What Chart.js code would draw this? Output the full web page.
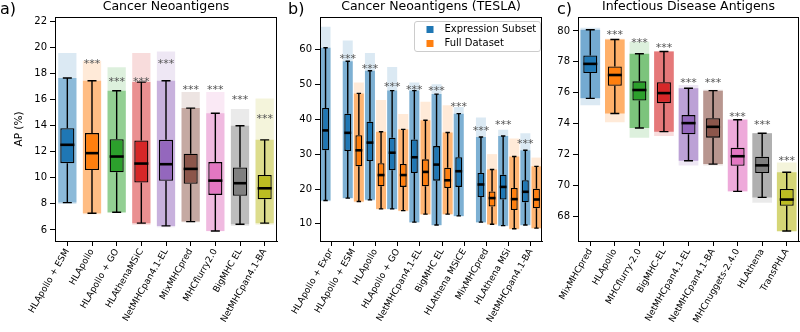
<!DOCTYPE html>
<html>
<head>
<meta charset="utf-8">
<script src="https://cdn.jsdelivr.net/npm/chart.js@4.4.1/dist/chart.umd.min.js"></script>
<style>
  body { margin: 0; background: #fff; }
  #wrap { position: relative; width: 800px; height: 332px; overflow: hidden; }
  canvas { position: absolute; top: 0; }
</style>
</head>
<body>
<div id="wrap">
  <canvas id="ca" width="290" height="332" style="left:0px"></canvas>
  <canvas id="cb" width="262" height="332" style="left:285px"></canvas>
  <canvas id="cc" width="255" height="332" style="left:545px"></canvas>
</div>
<script>
// ---- panel a: Cancer Neoantigens ----
const aLabels = ['HLApollo + ESM', 'HLApollo', 'HLApollo + GO', 'HLAthenaMSiC', 'NetMHCpan4.1-EL',
                 'MixMHCpred', 'MHCflurry2.0', 'BigMHC EL', 'NetMHCpan4.1-BA'];
const aMin  = [8.0, 7.2, 7.3, 6.4, 6.2, 6.6, 5.9, 6.3, 6.4];
const aLow  = [8.1, 7.28, 7.36, 6.52, 6.31, 6.64, 5.92, 6.44, 6.52];
const aQ1   = [11.13, 10.6, 10.43, 9.64, 9.77, 9.54, 8.69, 8.62, 8.36];
const aMed  = [12.54, 11.9, 11.64, 11.1, 11.05, 10.69, 9.79, 9.59, 9.2];
const aQ3   = [13.82, 13.44, 12.97, 12.87, 12.92, 11.85, 11.21, 10.8, 10.23];
const aHigh = [17.67, 17.46, 16.69, 17.36, 17.46, 15.36, 14.97, 14.0, 12.92];
const aMax  = [19.6, 19.0, 18.5, 19.6, 19.7, 16.6, 16.6, 15.3, 16.1];
const aStars = [null, 18.95, 17.62, 17.62, 18.95, 16.95, 16.95, 16.25, 14.72];
const aTicks = [6, 8, 10, 12, 14, 16, 18, 20, 22];

// ---- panel b: Cancer Neoantigens (TESLA) ----
const bLabels = ['HLApollo + Expr', 'HLApollo + ESM', 'HLApollo', 'HLApollo + GO', 'NetMHCpan4.1-EL',
                 'BigMHC EL', 'HLAthena MSiCE', 'MixMHCpred', 'HLAthena MSi', 'NetMHCpan4.1-BA'];
const bSeries = ['Expression Subset', 'Full Dataset'];
const bExpMin  = [16.5, 17.2, 16.7, 14.1, 10.3, 9.5, 12.1, 10.3, 9.3, 9.5];
const bExpLow  = [16.7, 17.4, 16.9, 14.3, 10.5, 9.7, 12.3, 10.5, 9.5, 9.7];
const bExpQ1   = [31.1, 30.9, 28.0, 25.4, 24.6, 22.4, 20.6, 17.7, 17.0, 16.2];
const bExpMed  = [36.8, 36.1, 33.3, 30.4, 29.1, 27.0, 25.1, 21.3, 20.6, 19.2];
const bExpQ3   = [43.2, 41.6, 39.3, 34.7, 34.2, 32.3, 29.1, 24.6, 24.1, 22.5];
const bExpHigh = [60.5, 56.6, 53.9, 48.2, 48.2, 47.2, 41.6, 34.9, 35.2, 31.1];
const bExpMax  = [66.5, 62.6, 59.0, 55.0, 50.5, 50.0, 43.5, 40.5, 37.0, 36.0];
const bAllMin  = [null, 16.2, 14.1, 13.6, 12.6, 12.6, null, 9.7, 8.4, 8.6];
const bAllLow  = [null, 16.4, 14.3, 13.8, 12.8, 12.8, null, 9.9, 8.6, 8.8];
const bAllQ1   = [null, 26.5, 20.8, 20.6, 20.8, 20.3, null, 15.0, 14.0, 14.5];
const bAllMed  = [null, 31.1, 24.0, 24.0, 24.9, 22.5, null, 17.4, 17.1, 17.0];
const bAllQ3   = [null, 35.4, 27.4, 27.2, 28.5, 26.1, null, 19.3, 20.3, 20.1];
const bAllHigh = [null, 47.4, 36.4, 37.1, 39.7, 36.2, null, 25.6, 29.3, 26.5];
const bAllMax  = [null, 50.5, 45.5, 41.5, 45.0, 44.0, null, 30.0, 34.5, 29.0];
const bStars = [null, 58.0, 55.2, 50.1, 49.3, 49.0, 44.3, 37.4, 39.1, 33.8];
const bTicks = [10, 20, 30, 40, 50, 60];

// ---- panel c: Infectious Disease Antigens ----
const cLabels = ['MixMHCpred', 'HLApollo', 'MHCflurry-2.0', 'BigMHC-EL', 'NetMHCpan4.1-EL',
                 'NetMHCpan4.1-BA', 'MHCnuggets-2.4.0', 'HLAthena', 'TransPHLA'];
const cMin  = [75.2, 74.1, 73.1, 73.2, 71.3, 71.3, 69.6, 68.9, 67.0];
const cLow  = [75.64, 74.66, 73.72, 73.49, 71.61, 71.39, 69.63, 69.24, 67.07];
const cQ1   = [77.28, 76.45, 75.5, 75.33, 73.32, 73.1, 71.28, 70.81, 68.7];
const cMed  = [77.87, 77.15, 76.18, 75.98, 74.04, 73.8, 71.9, 71.31, 69.1];
const cQ3   = [78.41, 77.7, 76.74, 76.68, 74.56, 74.36, 72.44, 71.87, 69.78];
const cHigh = [80.08, 79.45, 78.52, 78.67, 76.29, 76.14, 74.26, 73.39, 70.86];
const cMax  = [80.2, 79.5, 79.3, 78.7, 76.5, 76.2, 74.3, 73.4, 71.5];
const cStars = [null, 79.93, 79.43, 79.1, 76.85, 76.85, 74.62, 74.12, 71.8];
const cTicks = [68, 70, 72, 74, 76, 78, 80];

const TAB = ['#1f77b4', '#ff7f0e', '#2ca02c', '#d62728', '#9467bd', '#8c564b', '#e377c2', '#7f7f7f', '#bcbd22'];
const FONT = "'DejaVu Sans', sans-serif";

Chart.defaults.font.family = FONT;
Chart.defaults.color = '#000';

function rgba(hex, a) {
  const n = parseInt(hex.slice(1), 16);
  return `rgba(${n >> 16},${(n >> 8) & 255},${n & 255},${a})`;
}

// whiskers, caps, medians, stars, frame, titles, legend
function boxPlugin(cfg) {
  return {
    id: 'boxes',
    afterDatasetsDraw(chart) {
      const ctx = chart.ctx, y = chart.scales.y;
      ctx.save();
      ctx.strokeStyle = '#000';
      cfg.groups.forEach(g => {
        const meta = chart.getDatasetMeta(g.boxIndex);
        g.med.forEach((m, i) => {
          if (m == null) return;
          const el = meta.data[i];
          const x = el.x, w = el.width;
          const pl = y.getPixelForValue(g.low[i]), ph = y.getPixelForValue(g.high[i]);
          const p1 = y.getPixelForValue(g.q1[i]), p3 = y.getPixelForValue(g.q3[i]);
          ctx.lineWidth = 1.4;
          ctx.beginPath();
          ctx.moveTo(x, pl); ctx.lineTo(x, p1);
          ctx.moveTo(x, p3); ctx.lineTo(x, ph);
          ctx.moveTo(x - w * 0.32, pl); ctx.lineTo(x + w * 0.32, pl);
          ctx.moveTo(x - w * 0.32, ph); ctx.lineTo(x + w * 0.32, ph);
          ctx.stroke();
          ctx.lineWidth = 2.6;
          ctx.beginPath();
          const pm = y.getPixelForValue(m);
          ctx.moveTo(x - w / 2, pm); ctx.lineTo(x + w / 2, pm);
          ctx.stroke();
        });
      });
      // significance stars above the first group
      const meta0 = chart.getDatasetMeta(cfg.groups[0].boxIndex);
      ctx.fillStyle = '#555';
      ctx.font = `11px ${FONT}`;
      ctx.textAlign = 'center';
      ctx.textBaseline = 'alphabetic';
      cfg.stars.forEach((s, i) => {
        if (s == null) return;
        ctx.fillText('***', meta0.data[i].x, y.getPixelForValue(s) + 6);
      });
      ctx.restore();
    },
    afterDraw(chart) {
      const ctx = chart.ctx, a = chart.chartArea;
      ctx.save();
      ctx.strokeStyle = '#000';
      ctx.lineWidth = 1;
      ctx.strokeRect(Math.round(a.left) + 0.5, Math.round(a.top) + 0.5,
                     Math.round(a.right - a.left) - 1, Math.round(a.bottom - a.top));
      ctx.fillStyle = '#000';
      ctx.textAlign = 'center';
      ctx.font = `12.5px ${FONT}`;
      ctx.fillText(cfg.title, (a.left + a.right) / 2, a.top - 7);
      ctx.textAlign = 'left';
      ctx.font = `16px ${FONT}`;
      ctx.fillText(cfg.letter, cfg.letterX, 14);
      if (cfg.legend) {
        const w = 126, h = 30, lx = a.right - w - 1.5, ly = a.top + 4.5;
        ctx.fillStyle = 'rgba(255,255,255,0.8)';
        ctx.strokeStyle = '#ccc';
        ctx.beginPath();
        ctx.roundRect(lx, ly, w, h, 2.5);
        ctx.fill(); ctx.stroke();
        ctx.font = `10px ${FONT}`;
        ctx.textBaseline = 'middle';
        cfg.legend.forEach((name, k) => {
          const cy = ly + 8 + k * 14;
          ctx.fillStyle = cfg.groups[k].color;
          ctx.fillRect(lx + 12, cy - 3.5, 7, 7);
          ctx.fillStyle = '#000';
          ctx.fillText(name, lx + 30, cy);
        });
      }
      ctx.restore();
    }
  };
}

function makeChart(id, cfg) {
  const datasets = [];
  const pair = (lo, hi) => lo.map((v, i) => v == null ? null : [v, hi[i]]);
  cfg.groups.forEach(g => {
    const col = i => Array.isArray(g.color) ? g.color[i] : g.color;
    const fills = a => cfg.labels.map((_, i) => rgba(col(i), a));
    const common = { categoryPercentage: 1, stack: g.stack, borderSkipped: false };
    datasets.push({ ...common, data: pair(g.min, g.max), backgroundColor: fills(0.16),
                    barPercentage: cfg.cloudW, order: 3 });
    datasets.push({ ...common, data: pair(g.low, g.high), backgroundColor: fills(cfg.cloudA),
                    barPercentage: cfg.cloudW, order: 2 });
    g.boxIndex = datasets.length;
    datasets.push({ ...common, data: pair(g.q1, g.q3), backgroundColor: fills(1),
                    borderColor: '#000', borderWidth: 1.3, barPercentage: cfg.boxW, order: 1 });
  });

  return new Chart(document.getElementById(id), {
    type: 'bar',
    data: { labels: cfg.labels, datasets },
    options: {
      responsive: false,
      animation: false,
      events: [],
      layout: { padding: { left: 0, right: cfg.padRight, top: 17, bottom: 0 } },
      plugins: { legend: { display: false }, tooltip: { enabled: false } },
      scales: {
        x: {
          type: 'category',
          offset: true,
          grid: { offset: false, drawOnChartArea: false, drawTicks: true, tickLength: 5, color: '#000' },
          border: { color: '#000', width: 1 },
          ticks: { color: '#000', font: { size: 9 }, minRotation: 60, maxRotation: 60, autoSkip: false, padding: 1 },
          afterFit: s => { s.height = 91; s.paddingLeft = 0; s.paddingRight = 0; }
        },
        y: {
          stacked: false,
          min: cfg.yMin, max: cfg.yMax,
          grid: { drawOnChartArea: false, drawTicks: true, tickLength: 5, color: '#000' },
          border: { color: '#000', width: 1 },
          ticks: { color: '#000', font: { size: 10 }, padding: 3 },
          title: cfg.yTitle ? { display: true, text: cfg.yTitle, color: '#000', font: { size: 10.5 },
                                padding: { top: 13, bottom: 0 } } : { display: false },
          afterBuildTicks: s => { s.ticks = cfg.ticks.map(v => ({ value: v })); },
          afterFit: s => { s.width = cfg.yWidth; s.paddingTop = 0; s.paddingBottom = 0; }
        }
      }
    },
    plugins: [boxPlugin(cfg)]
  });
}

makeChart('ca', {
  labels: aLabels, ticks: aTicks, yMin: 5.15, yMax: 22.36, yWidth: 55, padRight: 13,
  title: 'Cancer Neoantigens', letter: 'a)', letterX: 0, yTitle: 'AP (%)',
  cloudW: 0.74, boxW: 0.57, cloudA: 0.42, stars: aStars,
  groups: [{ color: TAB, stack: 's', min: aMin, low: aLow, q1: aQ1, med: aMed, q3: aQ3, high: aHigh, max: aMax }]
});

makeChart('cb', {
  labels: bLabels, ticks: bTicks, yMin: 5.1, yMax: 69.3, yWidth: 35, padRight: 5,
  title: 'Cancer Neoantigens (TESLA)', letter: 'b)', letterX: 3, legend: bSeries,
  cloudW: 0.9, boxW: 0.62, cloudA: 0.5, stars: bStars,
  groups: [
    { color: TAB[0], stack: 'e', min: bExpMin, low: bExpLow, q1: bExpQ1, med: bExpMed, q3: bExpQ3, high: bExpHigh, max: bExpMax },
    { color: TAB[1], stack: 'f', min: bAllMin, low: bAllLow, q1: bAllQ1, med: bAllMed, q3: bAllQ3, high: bAllHigh, max: bAllMax }
  ]
});

makeChart('cc', {
  labels: cLabels, ticks: cTicks, yMin: 66.42, yMax: 80.9, yWidth: 33, padRight: 1,
  title: 'Infectious Disease Antigens', letter: 'c)', letterX: 12,
  cloudW: 0.8, boxW: 0.57, cloudA: 0.55, stars: cStars,
  groups: [{ color: TAB, stack: 's', min: cMin, low: cLow, q1: cQ1, med: cMed, q3: cQ3, high: cHigh, max: cMax }]
});
</script>
</body>
</html>
